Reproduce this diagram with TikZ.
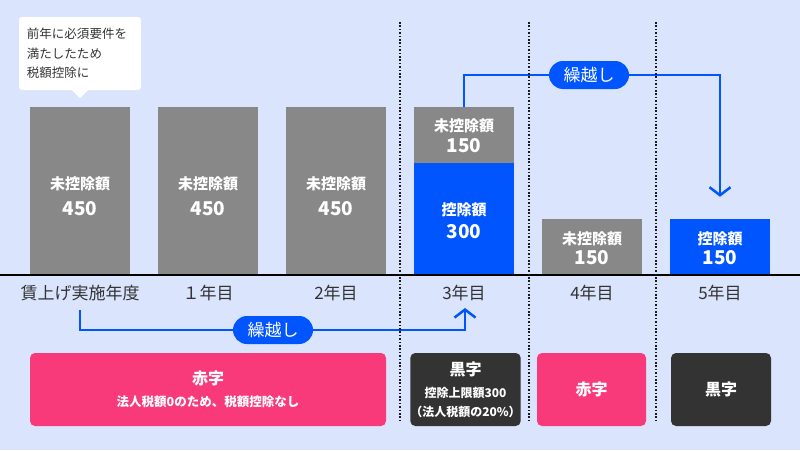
\documentclass[tikz,border=0pt]{standalone}
\usepackage{fontspec}
\setmainfont{Noto Sans CJK JP}
\usetikzlibrary{arrows.meta,positioning,calc}
\definecolor{bgblue}{RGB}{218,229,253}
\definecolor{carryblue}{RGB}{0,85,255}
\definecolor{bargray}{RGB}{136,136,136}
\definecolor{lossred}{RGB}{248,57,122}
\definecolor{profitdark}{RGB}{51,51,51}
\definecolor{labeltext}{RGB}{51,51,51}
\newcommand{\fsz}[2]{\fontsize{#1pt}{#2pt}\selectfont}
% label + amount inside a bar: #3 top strut, #4 gap
\newcommand{\bartext}[4]{\rule{0pt}{#3}#1\\[#4]{\fsz{19}{22}#2}}

\begin{document}
\begin{tikzpicture}[x=1pt, y=-1pt,
  bar/.style={fill=#1, text=white, align=center, minimum width=100pt,
    inner sep=0pt, font=\fsz{15}{22}\bfseries},
  year/.style={text=labeltext, font=\fsz{17}{20}},
  pill/.style={fill=carryblue, text=white, rounded corners=14pt,
    minimum width=80pt, minimum height=28pt, inner sep=0pt, font=\fsz{17}{20}},
  carry/.style={draw=carryblue, line width=2.5pt,
    -{Straight Barb[length=8pt, width=21pt, line width=2.5pt]}},
  result/.style={fill=#1, text=white, rounded corners=5pt, align=center,
    minimum height=73pt, inner sep=0pt, font=\fsz{16}{22}\bfseries},
  divider/.style={draw=black!90, line width=1.6pt, dash pattern=on 1.6pt off 1.8pt}
]
\fill[bgblue] (0,0) rectangle (800,450);
\useasboundingbox (0,0) rectangle (800,450);

% callout
\node[fill=white, rounded corners=3pt, minimum width=122pt, minimum height=73pt,
  text width=106pt, align=left, text=labeltext, font=\fsz{12.5}{19.5}] (note) at (80,53.5)
  {前年に必須要件を\\満たしたため\\税額控除に};
\fill[white] ([xshift=-8pt]note.south) -- ([yshift=-8pt]note.south) -- ([xshift=8pt]note.south) -- cycle;

% bars
\node[bar=bargray, minimum height=168pt] (bar0) at (80,191) {\bartext{未控除額}{450}{24pt}{4pt}};
\node[bar=bargray, minimum height=168pt] (bar1) at (208,191) {\bartext{未控除額}{450}{24pt}{4pt}};
\node[bar=bargray, minimum height=168pt] (bar2) at (336,191) {\bartext{未控除額}{450}{24pt}{4pt}};
\node[bar=bargray, minimum height=56pt] (bar3top) at (464,135) {\bartext{未控除額}{150}{15pt}{-1pt}};
\node[bar=carryblue, minimum height=112pt] (bar3) at (464,219) {\bartext{控除額}{300}{16pt}{1pt}};
\node[bar=bargray, minimum height=56pt] (bar4) at (592,247) {\bartext{未控除額}{150}{16pt}{-2pt}};
\node[bar=carryblue, minimum height=56pt] (bar5) at (720,247) {\bartext{控除額}{150}{16pt}{-2pt}};

\draw[line width=1.2pt] (0,275) -- (800,275);

% years
\node[year] (yr0) at (80,293) {賃上げ実施年度};
\node[year] (yr1) at (208,293) {１年目};
\node[year] (yr2) at (336,293) {2年目};
\node[year] (yr3) at (464,293) {3年目};
\node[year] (yr4) at (592,293) {4年目};
\node[year] (yr5) at (720,293) {5年目};

% carry forward
\node[pill] (carryA) at (273,330) {繰越し};
\coordinate (fromA) at (80,310);
\coordinate (toA) at (465,308);
\draw[carry] (fromA) |- (carryA) -| (toA);

\node[pill] (carryB) at (589,75) {繰越し};
\draw[carry] (bar3top.north) |- (carryB) -| ([yshift=22pt]bar5.north);

% results
\node[result=lossred, minimum width=356pt] (loss0) at (208,389.5)
  {赤字\\{\fsz{12.5}{16}法人税額0のため、税額控除なし}};
\node[result=profitdark, minimum width=109pt] (profit3) at (465.5,389.5)
  {黒字\\{\fsz{12}{16}控除上限額300}\\[-3pt]{\fsz{12}{16}（法人税額の20\%）}};
\node[result=lossred, minimum width=109pt] (loss4) at (591.5,389.5) {赤字};
\node[result=profitdark, minimum width=100pt] (profit5) at (721,389.5) {黒字};

% year dividers
\draw[divider] (400,22) -- (400,423);
\draw[divider] (529,22) -- (529,423);
\draw[divider] (656,22) -- (656,423);
\end{tikzpicture}
\end{document}
